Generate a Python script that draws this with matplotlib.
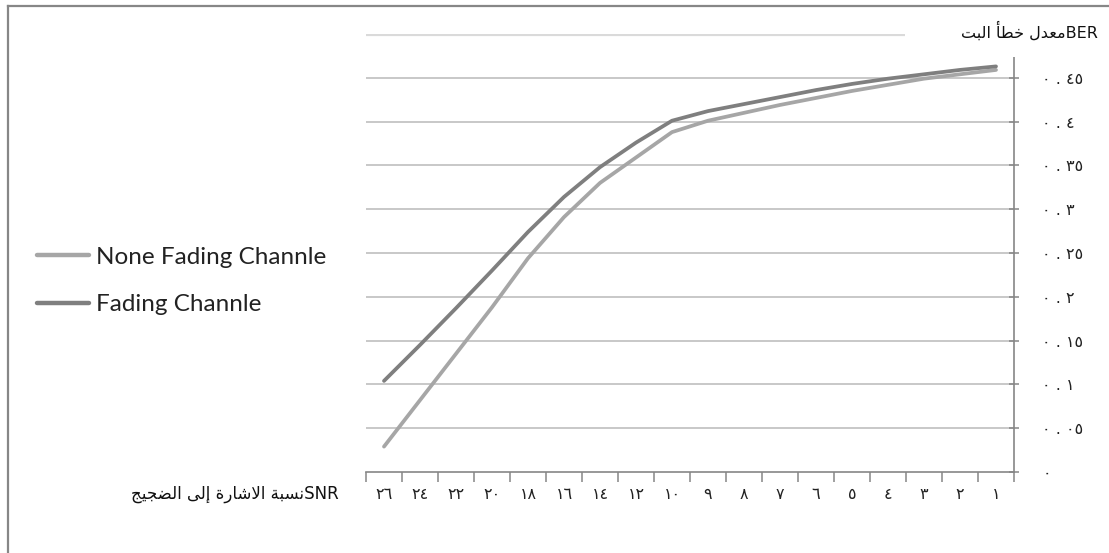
import matplotlib
matplotlib.use("Agg")
import matplotlib.pyplot as plt
from matplotlib.lines import Line2D
from matplotlib.patches import Rectangle

# ---- data ----
snr = [1, 2, 3, 4, 5, 6, 7, 8, 9, 10, 12, 14, 16, 18, 20, 22, 24, 26]
x_labels = ["١", "٢", "٣", "٤", "٥", "٦", "٧", "٨", "٩", "١٠",
            "١٢", "١٤", "١٦", "١٨", "٢٠", "٢٢", "٢٤", "٢٦"]
none_fading = [0.459, 0.454, 0.449, 0.442, 0.435, 0.427, 0.419, 0.410, 0.401,
               0.388, 0.359, 0.330, 0.291, 0.244, 0.188, 0.135, 0.082, 0.029]
fading = [0.463, 0.459, 0.454, 0.449, 0.443, 0.436, 0.428, 0.420, 0.412,
          0.401, 0.376, 0.348, 0.314, 0.274, 0.230, 0.187, 0.145, 0.104]
y_ticks = [0.0, 0.05, 0.1, 0.15, 0.2, 0.25, 0.3, 0.35, 0.4, 0.45]
y_labels = ["٠", "٠ . ٠٥", "٠ . ١", "٠ . ١٥", "٠ . ٢", "٠ . ٢٥",
            "٠ . ٣", "٠ . ٣٥", "٠ . ٤", "٠ . ٤٥"]
series_names = ["None Fading Channle", "Fading Channle"]

# Arabic titles written in visual order with presentation forms (no shaping engine)
y_title = ("\uFE96\uFE92\uFEDF\uFE8D" + " " + "\uFE84\uFEC4\uFEA7" + " "
           + "\uFEDD\uFEAA\uFECC\uFEE3" + "BER")          # BER معدل خطأ البت
x_title = ("\uFE9E\uFEF4\uFEA0\uFEC0\uFEDF\uFE8D" + " " + "\uFEF0\uFEDF\uFE87" + " "
           + "\uFE93\uFEAD\uFE8E\uFEB7\uFEFB\uFE8D" + " " + "\uFE94\uFE92\uFEB4\uFEE7"
           + "SNR")                                          # SNR نسبة الاشارة إلى الضجيج

W, H = 1109, 553
fig = plt.figure(figsize=(W / 100, H / 100), dpi=100)
fig.patch.set_facecolor("white")

ax_l, ax_r, ax_t, ax_b = 366, 1014, 34, 472
ax = fig.add_axes([ax_l / W, 1 - ax_b / H, (ax_r - ax_l) / W, (ax_b - ax_t) / H])

pos = list(range(len(snr)))
light = "#A6A6A6"
dark = "#7F7F7F"
ax.plot(pos, none_fading, color=light, lw=2.7, solid_capstyle="round",
        label=series_names[0], zorder=3)
ax.plot(pos, fading, color=dark, lw=2.7, solid_capstyle="round",
        label=series_names[1], zorder=4)

ax.set_xlim(len(snr) - 0.5, -0.5)
ax.set_ylim(0, 0.5)

# grid
for v in y_ticks[1:]:
    ax.axhline(v, color="#C4C4C4", lw=1.3, zorder=1)
ax.axhline(0.5, xmin=0, xmax=(905 - ax_l) / (ax_r - ax_l), color="#DADADA", lw=3, zorder=1)

for s in ["top", "left"]:
    ax.spines[s].set_visible(False)
for s in ["bottom", "right"]:
    ax.spines[s].set_color("#868686")
    ax.spines[s].set_linewidth(1.2)

ax.yaxis.tick_right()
ax.set_yticks(y_ticks)
ax.set_yticklabels(y_labels, fontfamily="DejaVu Sans", fontsize=11.5, color="#222222")
ax.tick_params(axis="y", direction="inout", length=7, width=1.1, color="#868686", pad=17)

ax.set_xticks(pos)
ax.set_xticklabels(x_labels, fontfamily="DejaVu Sans", fontsize=11.5, color="#222222")
ax.set_xticks([p - 0.5 for p in pos] + [len(snr) - 0.5], minor=True)
ax.tick_params(axis="x", which="major", length=0, pad=11)
ax.tick_params(axis="x", which="minor", direction="out", length=7, width=1.1, color="#868686")

# titles
fig.patches.append(Rectangle((905 / W, 1 - 57 / H), 135 / W, 42 / H,
                             transform=fig.transFigure, facecolor="white",
                             edgecolor="none", zorder=5))
fig.text(1098 / W, 1 - 31 / H, y_title, ha="right", va="center", fontsize=11.5,
         family="DejaVu Sans", color="#111111", zorder=6)
fig.text(339 / W, 1 - 494 / H, x_title, ha="right", va="center", fontsize=12,
         family="DejaVu Sans", color="#111111", zorder=6)

# legend
leg = fig.legend(handles=ax.get_lines(), labels=series_names,
                 loc="center left", bbox_to_anchor=(37 / W, 1 - 281 / H),
                 frameon=False, prop={"family": "Lato", "size": 17.5},
                 handlelength=2.15, handletextpad=0.28, labelspacing=1.1,
                 borderpad=0, borderaxespad=0)
for t in leg.get_texts():
    t.set_color("#222222")
for h in leg.legend_handles:
    h.set_linewidth(3.2)

# outer border
fig.add_artist(Line2D([8 / W, 8 / W], [0, 1 - 6 / H], transform=fig.transFigure,
                      color="#878787", lw=1.6))
fig.add_artist(Line2D([8 / W, 1], [1 - 6 / H, 1 - 6 / H], transform=fig.transFigure,
                      color="#878787", lw=1.6))

fig.savefig("out.png", dpi=100)
